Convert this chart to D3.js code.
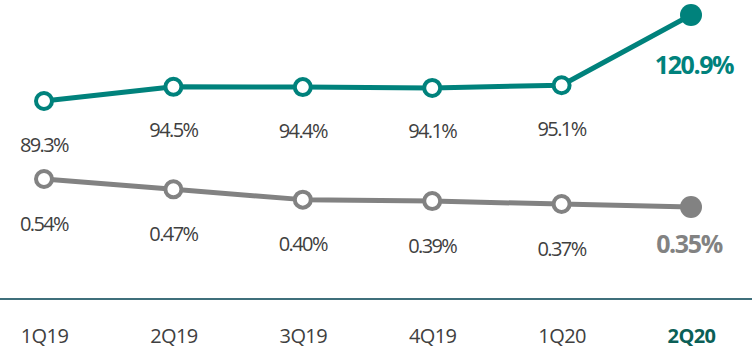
<!DOCTYPE html>
<html>
<head>
<meta charset="utf-8">
<script src="https://cdn.jsdelivr.net/npm/d3@7"></script>
<style>
  html, body { margin: 0; padding: 0; background: #ffffff; }
  svg { display: block; }
</style>
</head>
<body>
<svg id="chart" width="752" height="347"></svg>
<script>
// Quarterly ratios: coverage (teal, top) and cost of risk (gray, bottom)
const quarters = ["1Q19", "2Q19", "3Q19", "4Q19", "1Q20", "2Q20"];
const coverage = [89.3, 94.5, 94.4, 94.1, 95.1, 120.9];
const costOfRisk = [0.54, 0.47, 0.40, 0.39, 0.37, 0.35];
const coverageLabels = ["89.3%", "94.5%", "94.4%", "94.1%", "95.1%", "120.9%"];
const costLabels = ["0.54%", "0.47%", "0.40%", "0.39%", "0.37%", "0.35%"];

const W = 752, H = 347;
const TEAL = "#00827c", GRAY = "#828282", TEXT = "#404040";
const svg = d3.select("#chart");

const x = d3.scalePoint().domain(quarters).range([44, 691]);
// Each series has its own vertical band
const yTop = d3.scaleLinear().domain([89.3, 120.9]).range([101, 15]);
const yBot = d3.scaleLinear().domain([0.35, 0.54]).range([207, 179]);

const font = "'Open Sans', 'Noto Sans', sans-serif";
const last = quarters.length - 1;

function drawSeries(values, labels, y, color, labelOffset, lastLabelPos) {
  const g = svg.append("g");
  const line = d3.line().x((d, i) => x(quarters[i])).y(d => y(d));
  g.append("path").datum(values)
    .attr("d", line)
    .attr("fill", "none")
    .attr("stroke", color)
    .attr("stroke-width", 5)
    .attr("stroke-linejoin", "round");

  g.selectAll("circle").data(values).join("circle")
    .attr("cx", (d, i) => x(quarters[i]))
    .attr("cy", d => y(d))
    .attr("r", (d, i) => i === last ? 11 : 8)
    .attr("fill", (d, i) => i === last ? color : "#ffffff")
    .attr("stroke", color)
    .attr("stroke-width", (d, i) => i === last ? 0 : 4);

  g.selectAll("text").data(values).join("text")
    .attr("x", (d, i) => i === last ? lastLabelPos[0] : x(quarters[i]))
    .attr("y", (d, i) => i === last ? y(d) + lastLabelPos[1] : y(d) + labelOffset)
    .attr("text-anchor", "middle")
    .attr("dominant-baseline", "central")
    .attr("font-family", font)
    .attr("font-size", (d, i) => i === last ? 25 : 20)
    .attr("font-weight", (d, i) => i === last ? 700 : 400)
    .attr("letter-spacing", (d, i) => i === last ? -1.4 : -1.6)
    .attr("fill", (d, i) => i === last ? color : TEXT)
    .text((d, i) => labels[i]);
}

drawSeries(coverage, coverageLabels, yTop, TEAL, 43, [694, 49]);
drawSeries(costOfRisk, costLabels, yBot, GRAY, 44, [689, 36]);

// Category axis along the bottom
const axis = d3.axisBottom(x).tickSize(0).tickPadding(0);
const ax = svg.append("g").attr("transform", "translate(0,299)").call(axis);
ax.select(".domain").remove();
ax.append("line")
  .attr("x1", 0).attr("x2", W)
  .attr("y1", 0).attr("y2", 0)
  .attr("stroke", "#3f6f7b")
  .attr("stroke-width", 2);
ax.selectAll(".tick text")
  .attr("y", 36)
  .attr("dy", null)
  .attr("dominant-baseline", "central")
  .attr("font-family", font)
  .attr("font-size", 20)
  .attr("letter-spacing", -0.6)
  .attr("fill", (d, i) => i === last ? "#0b5f57" : TEXT)
  .attr("font-weight", (d, i) => i === last ? 700 : 400);
</script>
</body>
</html>
